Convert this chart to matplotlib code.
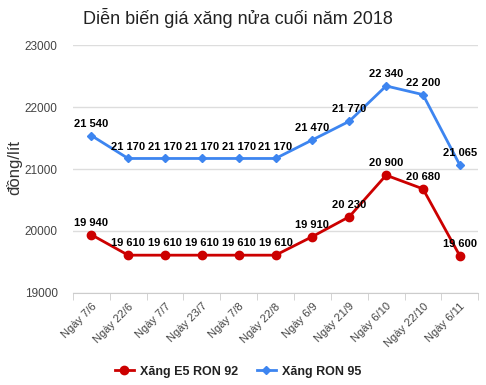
import matplotlib
matplotlib.use("Agg")
import matplotlib.pyplot as plt
import numpy as np

categories = ["Ngày 7/6", "Ngày 22/6", "Ngày 7/7", "Ngày 23/7", "Ngày 7/8", "Ngày 22/8",
              "Ngày 6/9", "Ngày 21/9", "Ngày 6/10", "Ngày 22/10", "Ngày 6/11"]
e5_ron92 = [19940, 19610, 19610, 19610, 19610, 19610, 19910, 20230, 20900, 20680, 19600]
ron95 = [21540, 21170, 21170, 21170, 21170, 21170, 21470, 21770, 22340, 22200, 21065]
yticks = [19000, 20000, 21000, 22000, 23000]

plt.rcParams['font.family'] = ['Arial', 'Liberation Sans', 'DejaVu Sans']

fig = plt.figure(figsize=(4.86, 3.85), dpi=100)
ax = fig.add_axes([0.150, 0.239, 0.834, 0.644])

red = "#cc0000"
blue = "#3d85f0"
x = np.arange(len(categories))
ax.plot(x, e5_ron92, color=red, lw=2, marker='o', ms=6, label="Xăng E5 RON 92", zorder=3)
ax.plot(x, ron95, color=blue, lw=2, marker='D', ms=4.5, label="Xăng RON 95", zorder=3)

def fmt(v):
    return f"{v:,}".replace(",", " ")

for xi, v in zip(x, e5_ron92):
    ax.annotate(fmt(v), (xi, v), xytext=(0, 5), textcoords='offset points',
                ha='center', va='bottom', fontsize=8, fontweight='bold', color='black', zorder=4)
for xi, v in zip(x, ron95):
    ax.annotate(fmt(v), (xi, v), xytext=(0, 5), textcoords='offset points',
                ha='center', va='bottom', fontsize=8, fontweight='bold', color='black', zorder=4)

ax.set_xlim(-0.5, len(categories) - 0.5)
ax.set_ylim(19000, 23000)
ax.set_yticks(yticks)
ax.set_yticklabels([str(t) for t in yticks], fontsize=8.5, color='#444444')
ax.yaxis.grid(True, color='#dddddd', lw=1)
ax.set_axisbelow(True)
ax.tick_params(axis='y', length=0, pad=11)

ax.set_xticks(x)
ax.set_xticklabels(categories, rotation=45, ha='right', rotation_mode='anchor',
                   fontsize=8, color='#444444')
ax.tick_params(axis='x', length=0, pad=6)
ax.set_xticks(np.arange(len(categories) + 1) - 0.5, minor=True)
ax.tick_params(axis='x', which='minor', length=5, color='#cccccc', direction='out')

for s in ['top', 'right', 'left']:
    ax.spines[s].set_visible(False)
ax.spines['bottom'].set_color('#cccccc')

fig.text(14 / 486, 1 - 168 / 385, "đồng/lít", rotation=90, ha='center', va='center',
         fontsize=12, color='#333333')
fig.text(0.49, 0.953, "Diễn biến giá xăng nửa cuối năm 2018", ha='center', va='center',
         fontsize=13, color='#222222')

leg = fig.legend(loc='center', bbox_to_anchor=(0.49, 0.035), ncol=2, frameon=False,
                 fontsize=9, handlelength=1.5, columnspacing=1.5, handletextpad=0.5)
for t in leg.get_texts():
    t.set_fontweight('bold')
    t.set_color('#222222')

fig.savefig("out.png", dpi=100)
